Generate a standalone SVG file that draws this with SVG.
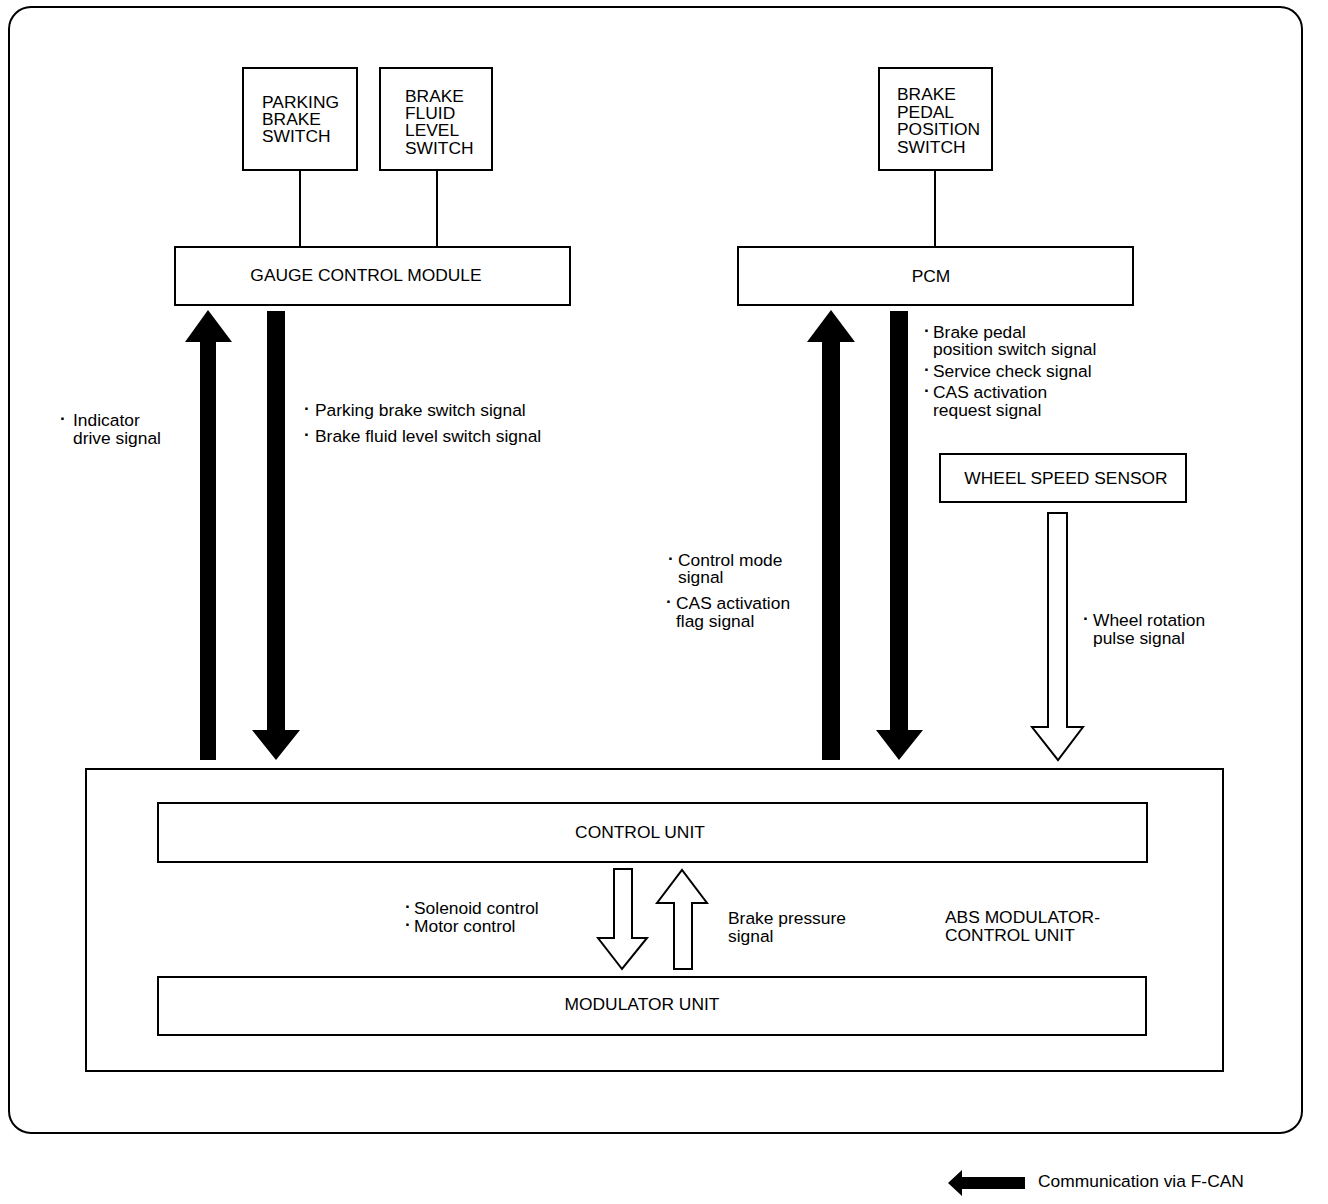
<svg xmlns="http://www.w3.org/2000/svg" width="1328" height="1204" viewBox="0 0 1328 1204">
<style>
text{font-family:"Liberation Sans",Arial,sans-serif;font-size:17.4px;fill:#000}
.c{text-anchor:middle}
.b{font-weight:bold}
.box{fill:#fff;stroke:#000;stroke-width:2}
.frame{fill:none;stroke:#000;stroke-width:2}
.ln{stroke:#000;stroke-width:2;fill:none}
.solid{fill:#000;stroke:none}
.hollow{fill:#fff;stroke:#000;stroke-width:2;stroke-linejoin:miter}
</style>
<rect width="1328" height="1204" fill="#fff"/>
<rect x="9" y="7" width="1293" height="1126" rx="22" ry="22" class="frame"/>

<g id="parking-brake-switch">
  <rect class="box" x="243" y="68" width="114" height="102"/>
  <text x="262" y="108">PARKING</text>
  <text x="262" y="125">BRAKE</text>
  <text x="262" y="142">SWITCH</text>
</g>
<g id="brake-fluid-level-switch">
  <rect class="box" x="380" y="68" width="112" height="102"/>
  <text x="405" y="102">BRAKE</text>
  <text x="405" y="119">FLUID</text>
  <text x="405" y="136">LEVEL</text>
  <text x="405" y="154">SWITCH</text>
</g>
<g id="brake-pedal-position-switch">
  <rect class="box" x="879" y="68" width="113" height="102"/>
  <text x="897" y="100">BRAKE</text>
  <text x="897" y="118">PEDAL</text>
  <text x="897" y="135">POSITION</text>
  <text x="897" y="153">SWITCH</text>
</g>
<g id="gauge-control-module">
  <rect class="box" x="175" y="247" width="395" height="58"/>
  <text class="c" x="366" y="281">GAUGE CONTROL MODULE</text>
</g>
<g id="pcm">
  <rect class="box" x="738" y="247" width="395" height="58"/>
  <text class="c" x="931" y="282">PCM</text>
</g>
<g id="wheel-speed-sensor">
  <rect class="box" x="940" y="454" width="246" height="48"/>
  <text class="c" x="1066" y="484">WHEEL SPEED SENSOR</text>
</g>
<g id="abs-modulator-control-unit">
  <rect class="frame" x="86" y="769" width="1137" height="302"/>
  <text x="945" y="923">ABS MODULATOR-</text>
  <text x="945" y="941">CONTROL UNIT</text>
</g>
<g id="control-unit">
  <rect class="box" x="158" y="803" width="989" height="59"/>
  <text class="c" x="640" y="838">CONTROL UNIT</text>
</g>
<g id="modulator-unit">
  <rect class="box" x="158" y="977" width="988" height="58"/>
  <text class="c" x="642" y="1010">MODULATOR UNIT</text>
</g>

<g id="connectors">
  <line class="ln" x1="300" y1="170" x2="300" y2="247"/>
  <line class="ln" x1="437" y1="170" x2="437" y2="247"/>
  <line class="ln" x1="935" y1="170" x2="935" y2="247"/>
  <polygon class="solid" points="200,760 216,760 216,342 232,342 208,310 185,342 200,342"/>
  <polygon class="solid" points="267,311 285,311 285,730 300,730 276,760 252,730 267,730"/>
  <polygon class="solid" points="822,760 840,760 840,342 855,342 831,310 807,342 822,342"/>
  <polygon class="solid" points="890,311 908,311 908,730 923,730 899,760 876,730 890,730"/>
  <polygon class="hollow" points="1048,513 1067,513 1067,727 1083,727 1058,760 1032,727 1048,727"/>
  <polygon class="hollow" points="614,869 632,869 632,938 647,938 622,969 598,938 614,938"/>
  <polygon class="hollow" points="674,969 692,969 692,903 707,903 682,870 657,903 674,903"/>
</g>

<g id="labels">
  <text class="b" x="60" y="424">·</text>
  <text x="73" y="426">Indicator</text>
  <text x="73" y="444">drive signal</text>

  <text class="b" x="304" y="414">·</text>
  <text x="315" y="416">Parking brake switch signal</text>
  <text class="b" x="304" y="440">·</text>
  <text x="315" y="442">Brake fluid level switch signal</text>

  <text class="b" x="924" y="336">·</text>
  <text x="933" y="338">Brake pedal</text>
  <text x="933" y="355">position switch signal</text>
  <text class="b" x="924" y="375">·</text>
  <text x="933" y="377">Service check signal</text>
  <text class="b" x="924" y="396">·</text>
  <text x="933" y="398">CAS activation</text>
  <text x="933" y="416">request signal</text>

  <text class="b" x="668" y="564">·</text>
  <text x="678" y="566">Control mode</text>
  <text x="678" y="583">signal</text>
  <text class="b" x="666" y="607">·</text>
  <text x="676" y="609">CAS activation</text>
  <text x="676" y="627">flag signal</text>

  <text class="b" x="1083" y="624">·</text>
  <text x="1093" y="626">Wheel rotation</text>
  <text x="1093" y="644">pulse signal</text>

  <text class="b" x="405" y="912">·</text>
  <text x="414" y="914">Solenoid control</text>
  <text class="b" x="405" y="930">·</text>
  <text x="414" y="932">Motor control</text>

  <text x="728" y="924">Brake pressure</text>
  <text x="728" y="942">signal</text>
</g>

<g id="legend">
  <polygon class="solid" points="1025,1177 1025,1189 962,1189 962,1196 948,1183 962,1170 962,1177"/>
  <text x="1038" y="1187">Communication via F-CAN</text>
</g>
</svg>
